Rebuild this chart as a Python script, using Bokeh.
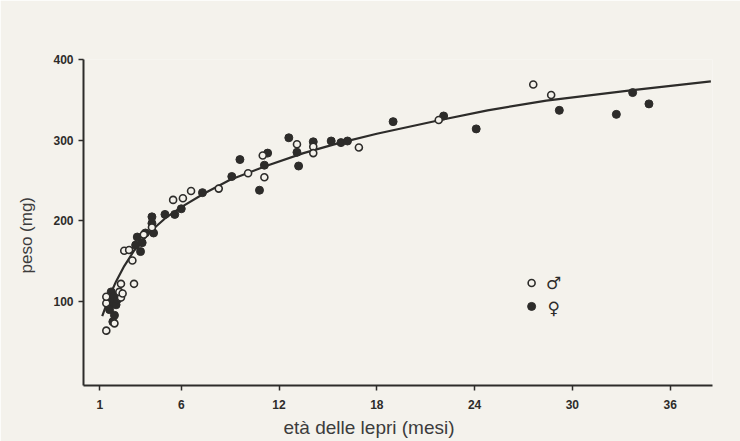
from bokeh.plotting import figure
from bokeh.models import FixedTicker, Title
from bokeh.core.properties import value
from bokeh.embed import file_html
from bokeh.resources import INLINE

# males (open circles)
male_age = [1.4, 1.9, 1.4, 1.4, 2.3, 2.2, 2.4, 2.3, 3.1, 3.0, 2.5, 2.8, 3.7, 4.2,
            5.5, 6.1, 6.6, 8.3, 10.1, 11.0, 11.1, 13.1, 14.1, 14.1, 16.9, 21.8,
            27.6, 28.7]
male_weight = [64, 73, 98, 106, 105, 112, 110, 122, 122, 151, 163, 164, 183, 192,
               226, 228, 237, 240, 259, 281, 254, 295, 292, 284, 291, 325,
               369, 356]

# females (filled circles)
female_age = [1.5, 1.6, 1.7, 1.8, 1.9, 2.0, 2.1, 1.6, 1.9, 1.8, 3.2, 3.5, 3.6, 3.3,
              3.8, 4.3, 4.2, 4.2, 5.0, 5.6, 6.0, 7.3, 9.1, 9.6, 10.8, 11.1, 11.3,
              12.6, 13.1, 13.2, 14.1, 15.2, 15.8, 16.2, 19.0, 22.1, 24.1, 29.2,
              32.7, 33.7, 34.7]
female_weight = [103, 95, 112, 100, 107, 96, 103, 90, 83, 75, 170, 162, 173, 180,
                 185, 185, 197, 205, 208, 208, 215, 235, 255, 276, 238, 269, 284,
                 303, 285, 268, 298, 299, 297, 299, 323, 330, 314, 337,
                 332, 359, 345]

# fitted growth curve
curve_age = [1.15, 1.6, 2.0, 2.5, 3.1, 4.0, 5.0, 6.0, 7.4, 9.0, 11.2, 13.5,
             15.6, 18.0, 21.9, 24.8, 28.4, 33.7, 38.5]
curve_weight = [82, 107, 125, 144, 163, 185, 203, 217, 234, 251, 268, 284,
                296, 308, 325, 337, 349, 362, 373]

x_ticks = [1, 6, 12, 18, 24, 30, 36]
y_ticks = [100, 200, 300, 400]

INK = "#2d2c2a"
PAPER = "#f4f2ec"
TXT = "#3c3c3c"

p = figure(width=740, height=441, x_range=(0, 38.6), y_range=(-4, 400),
           output_backend="svg", toolbar_location=None,
           min_border_left=83, min_border_right=28,
           min_border_top=59, min_border_bottom=56)

p.background_fill_color = PAPER
p.border_fill_color = PAPER
p.outline_line_color = None
p.grid.visible = False

for ax in (p.xaxis[0], p.yaxis[0]):
    ax.axis_line_color = INK
    ax.axis_line_width = 2
    ax.major_tick_line_color = INK
    ax.major_tick_line_width = 1.5
    ax.major_tick_in = 0
    ax.major_tick_out = 5
    ax.minor_tick_line_color = None
    ax.major_label_text_font = "Liberation Sans"
    ax.major_label_text_font_style = "bold"
    ax.major_label_text_font_size = "12px"
    ax.major_label_text_color = INK

p.xaxis[0].ticker = FixedTicker(ticks=x_ticks)
p.yaxis[0].ticker = FixedTicker(ticks=y_ticks)
p.xaxis[0].major_label_standoff = 9
p.yaxis[0].major_label_standoff = 5

p.line(curve_age, curve_weight, line_color=INK, line_width=2.2)
p.scatter(female_age, female_weight, marker="circle", size=8,
          fill_color=INK, line_color=INK, line_width=1)
p.scatter(male_age, male_weight, marker="circle", size=7,
          fill_color=PAPER, line_color=INK, line_width=1.6)

# legend
p.scatter([27.5], [123], marker="circle", size=7, fill_color=PAPER,
          line_color=INK, line_width=1.6)
p.scatter([27.5], [94], marker="circle", size=8, fill_color=INK, line_color=INK)
p.text([28.85, 28.85], [123, 92], text=["\u2642", "\u2640"],
       text_font=value("DejaVu Sans"), text_font_size="17px",
       text_font_style="bold", text_color=INK,
       text_align="center", text_baseline="middle")

xt = Title(text="età delle lepri (mesi)", align="left", offset=200,
           text_font="Liberation Sans", text_font_size="19px",
           text_font_style="normal", text_color=TXT, standoff=6)
p.add_layout(xt, "below")
yt = Title(text="peso (mg)", align="left", offset=112,
           text_font="Liberation Sans", text_font_size="17px",
           text_font_style="normal", text_color=TXT, standoff=29)
p.add_layout(yt, "left")

open("out.html", "w").write(file_html(p, INLINE))
